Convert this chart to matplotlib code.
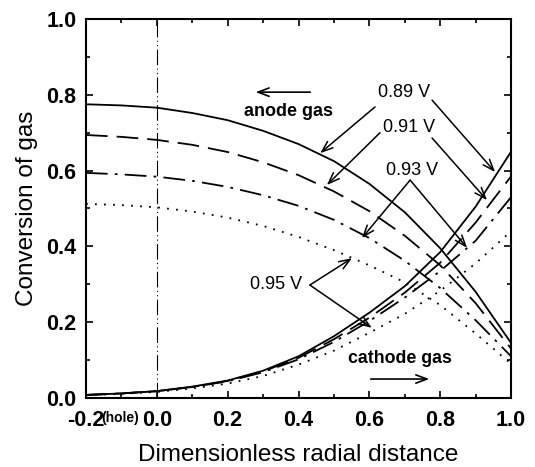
import numpy as np
import matplotlib
matplotlib.use("Agg")
import matplotlib.pyplot as plt
from matplotlib.ticker import MultipleLocator

plt.rcParams["font.family"] = ["Liberation Sans", "DejaVu Sans"]
plt.rcParams["axes.unicode_minus"] = False

# radial positions where the curves were read
xr = [-0.2, -0.1, 0.0, 0.1, 0.2, 0.3, 0.4, 0.5, 0.6, 0.7, 0.8, 0.9, 1.0]

# anode gas conversion (decreasing curves)
anode_089 = [0.775, 0.772, 0.766, 0.752, 0.733, 0.705, 0.670, 0.625, 0.565, 0.49, 0.395, 0.28, 0.145]
anode_091 = [0.694, 0.689, 0.681, 0.668, 0.649, 0.622, 0.588, 0.545, 0.493, 0.428, 0.35, 0.25, 0.13]
anode_093 = [0.594, 0.59, 0.584, 0.573, 0.557, 0.535, 0.507, 0.47, 0.422, 0.362, 0.29, 0.205, 0.11]
anode_095 = [0.512, 0.509, 0.503, 0.492, 0.476, 0.454, 0.425, 0.39, 0.35, 0.305, 0.245, 0.17, 0.09]

# cathode gas conversion (increasing curves)
cathode_089 = [0.008, 0.012, 0.018, 0.03, 0.046, 0.072, 0.11, 0.163, 0.225, 0.295, 0.385, 0.505, 0.65]
cathode_091 = [0.008, 0.012, 0.018, 0.029, 0.045, 0.07, 0.106, 0.155, 0.212, 0.278, 0.357, 0.463, 0.585]
cathode_093 = [0.008, 0.012, 0.018, 0.029, 0.044, 0.068, 0.102, 0.148, 0.203, 0.265, 0.335, 0.415, 0.53]
cathode_095 = [0.007, 0.011, 0.016, 0.025, 0.038, 0.058, 0.088, 0.125, 0.172, 0.222, 0.283, 0.355, 0.44]

# voltage labels and where their arrows point
labels = ["0.89 V", "0.91 V", "0.93 V", "0.95 V"]
label_pos = [(0.698, 0.805), (0.712, 0.715), (0.72, 0.60), (0.336, 0.30)]
left_src = [(0.616, 0.768), (0.63, 0.70), (0.715, 0.575), (0.432, 0.298)]
left_tip = [(0.461, 0.646), (0.48, 0.562), (0.579, 0.422), (0.551, 0.369)]
right_src = [(0.777, 0.786), (0.777, 0.686), (0.715, 0.575), (0.432, 0.298)]
right_tip = [(0.955, 0.596), (0.932, 0.522), (0.876, 0.396), (0.607, 0.185)]

fig = plt.figure(figsize=(5.35, 4.67), dpi=100)
ax = fig.add_axes([0.1607, 0.1478, 0.7946, 0.8115])

lw = 1.3
dash = (12, 5)
dashdot = (12, 4, 1.5, 4)
dot = (1, 4)

ax.plot(xr, anode_089, color="k", lw=lw)
ax.plot(xr, anode_091, color="k", lw=lw, dashes=dash)
ax.plot(xr, anode_093, color="k", lw=lw, dashes=dashdot)
ax.plot(xr, anode_095, color="k", lw=lw, dashes=dot)
ax.plot(xr, cathode_089, color="k", lw=lw)
ax.plot(xr, cathode_091, color="k", lw=lw, dashes=dash)
ax.plot(xr, cathode_093, color="k", lw=lw, dashes=dashdot)
ax.plot(xr, cathode_095, color="k", lw=lw, dashes=dot)

# hole edge marker
ax.axvline(0.0, color="k", lw=0.8, dashes=(14, 3, 1, 3, 1, 3))

ax.set_xlim(-0.2, 1.0)
ax.set_ylim(0.0, 1.0)
ax.xaxis.set_major_locator(MultipleLocator(0.2))
ax.xaxis.set_minor_locator(MultipleLocator(0.1))
ax.yaxis.set_major_locator(MultipleLocator(0.2))
ax.yaxis.set_minor_locator(MultipleLocator(0.1))
ax.tick_params(which="both", direction="in", top=True, right=True, width=1.2)
ax.tick_params(which="major", length=5, labelsize=15.5)
ax.tick_params(axis="x", which="major", pad=9)
ax.tick_params(axis="y", which="major", pad=7)
ax.tick_params(which="minor", length=3)
for lab in ax.get_xticklabels() + ax.get_yticklabels():
    lab.set_fontweight("bold")
for sp in ax.spines.values():
    sp.set_linewidth(1.5)

ax.set_xlabel("Dimensionless radial distance", fontsize=17.5, labelpad=9)
ax.set_ylabel("Conversion of gas", fontsize=17.5, labelpad=6)

ax.text(-0.103, -0.054, "(hole)", fontsize=10, fontweight="bold",
        ha="center", va="center", clip_on=False)

# direction labels
head = "->,head_length=0.8,head_width=0.3"
ax.text(0.373, 0.757, "anode gas", fontsize=13, fontweight="bold", ha="center", va="center")
ax.annotate("", xy=(0.271, 0.807), xytext=(0.441, 0.807),
            arrowprops=dict(arrowstyle=head, color="k", lw=1.2))
ax.text(0.686, 0.103, "cathode gas", fontsize=12.8, fontweight="bold", ha="center", va="center")
ax.annotate("", xy=(0.777, 0.05), xytext=(0.596, 0.05),
            arrowprops=dict(arrowstyle=head, color="k", lw=1.2))

arrow_kw = dict(arrowstyle=head, color="k", lw=1.1, shrinkA=0, shrinkB=0)
for lab, p, ls, lt, rs, rt in zip(labels, label_pos, left_src, left_tip, right_src, right_tip):
    ax.text(p[0], p[1], lab, fontsize=13, ha="center", va="center")
    ax.annotate("", xy=lt, xytext=ls, arrowprops=arrow_kw)
    ax.annotate("", xy=rt, xytext=rs, arrowprops=arrow_kw)

fig.savefig("out.png", dpi=100)
